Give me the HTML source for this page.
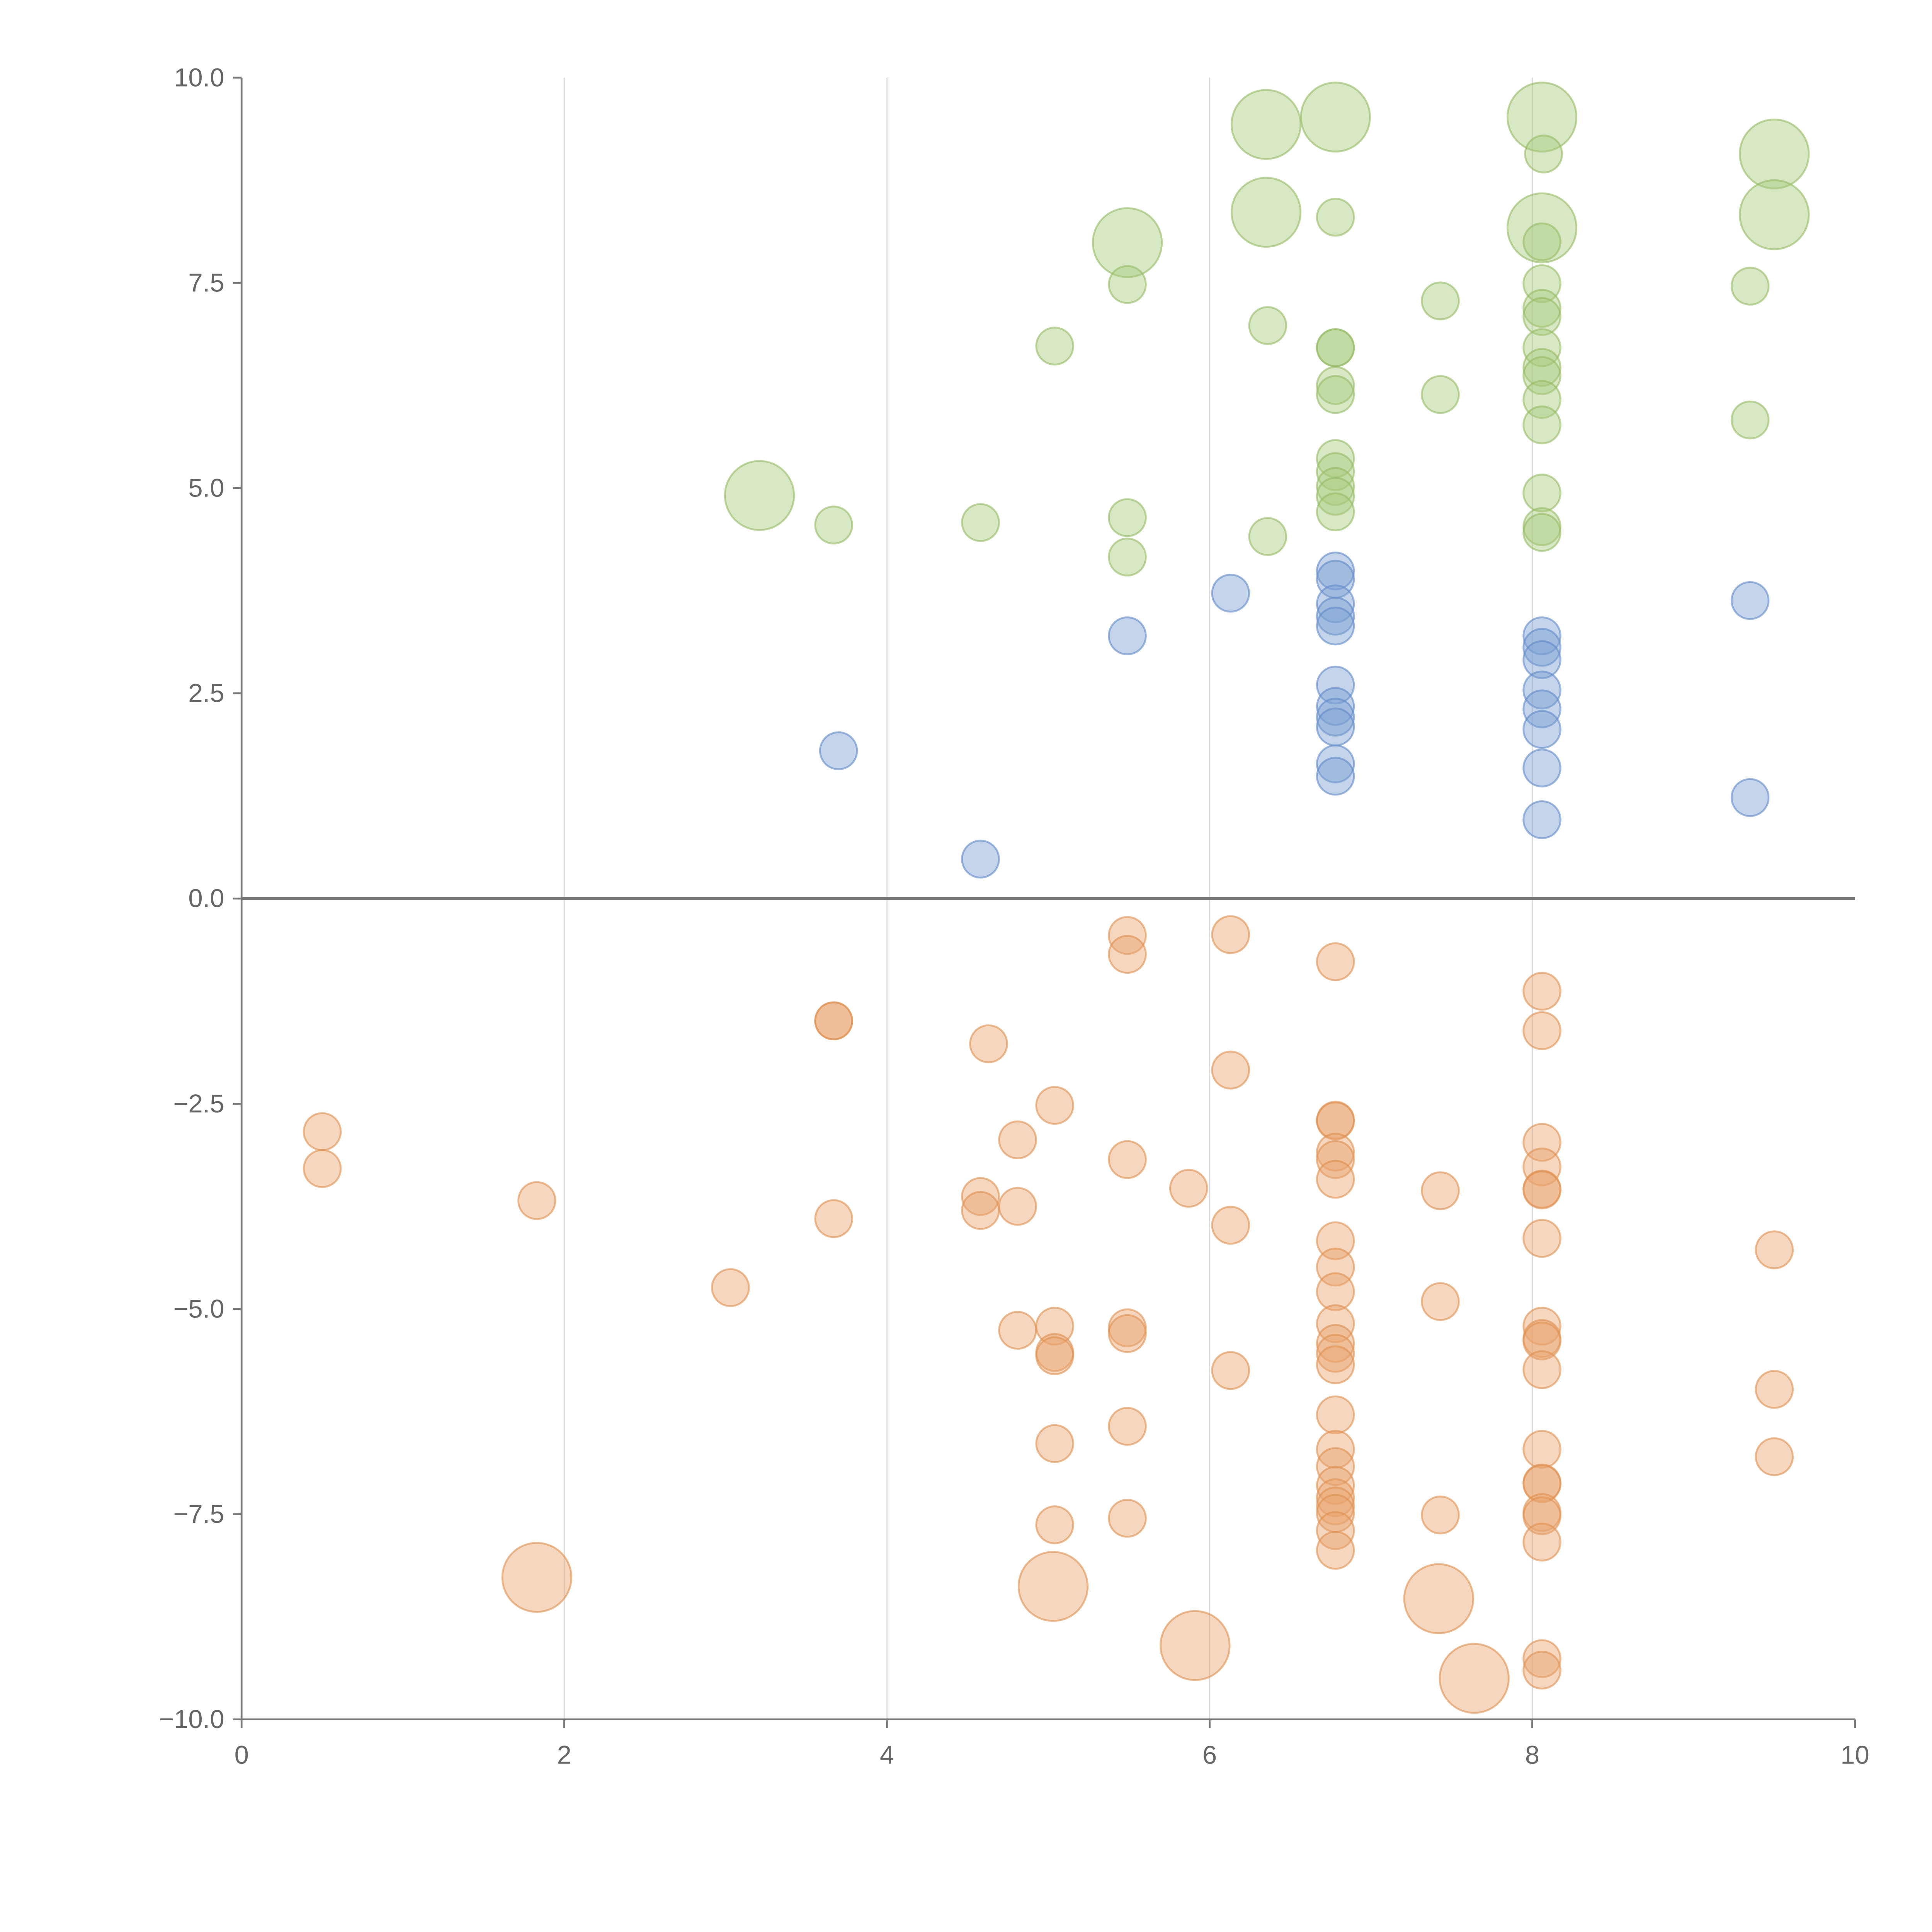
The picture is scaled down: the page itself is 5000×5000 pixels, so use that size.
<!DOCTYPE html>
<html><head><meta charset="utf-8"><style>
html,body{margin:0;padding:0;background:#fff;}
svg{display:block;}
text{font-family:"Liberation Sans",Arial,sans-serif;fill:#666;}
</style></head>
<body>
<svg id="chart" width="5000" height="5000" viewBox="0 0 1567.5 1567.5" xmlns="http://www.w3.org/2000/svg">
<g id="grid"></g>
<g id="axes"></g>
<g id="marks"></g>
</svg>
<script>
const xTicks = [0,2,4,6,8,10];
const yTicks = [10.0,7.5,5.0,2.5,0.0,-2.5,-5.0,-7.5,-10.0];
const yTickLabels = ["10.0","7.5","5.0","2.5","0.0","\u22122.5","\u22125.0","\u22127.5","\u221210.0"];

const greenX = [6.35,6.78,8.06,9.5,6.35,8.06,9.5,5.49,3.21,8.07,6.78,8.06,8.06,5.49,7.43,9.35,6.36,8.06,8.06,6.78,6.78,5.04,8.06,8.06,8.06,6.78,6.78,7.43,8.06,9.35,8.06,6.78,6.78,6.78,6.78,6.78,8.06,8.06,8.06,3.67,4.58,5.49,5.49,6.36];
const greenY = [9.43,9.52,9.52,9.07,8.36,8.17,8.33,7.99,4.91,9.07,8.30,8.0,7.49,7.48,7.28,7.46,6.98,7.19,7.09,6.71,6.71,6.73,6.71,6.47,6.37,6.25,6.14,6.14,6.08,5.83,5.77,5.36,5.2,5.02,4.9,4.71,4.94,4.53,4.46,4.55,4.58,4.64,4.16,4.41];
const greenBig = [1,1,1,1,1,1,1,1,1];

const blueX = [3.70,4.58,5.49,6.13,6.78,6.78,6.78,6.78,6.78,6.78,6.78,6.78,6.78,6.78,6.78,8.06,8.06,8.06,8.06,8.06,8.06,8.06,8.06,9.35,9.35];
const blueY = [1.80,0.48,3.2,3.72,3.99,3.89,3.59,3.44,3.32,2.6,2.34,2.21,2.09,1.64,1.49,3.2,3.06,2.91,2.54,2.31,2.06,1.59,0.96,3.63,1.23];

const orangeX = [
 1.83,5.03,5.91,7.42,7.64,
 0.5,0.5,
 1.83,
 3.03,
 3.67,3.67,3.67,
 4.63,
 4.58,4.58,
 4.81,4.81,4.81,
 5.04,5.04,5.04,5.04,5.04,5.04,
 5.49,5.49,5.49,5.49,5.49,5.49,5.49,
 5.87,
 6.13,6.13,6.13,6.13,
 6.78,6.78,6.78,6.78,6.78,6.78,6.78,6.78,6.78,6.78,6.78,6.78,6.78,6.78,6.78,6.78,6.78,6.78,6.78,6.78,6.78,6.78,
 7.43,7.43,7.43,
 8.06,8.06,8.06,8.06,8.06,8.06,8.06,8.06,8.06,8.06,8.06,8.06,8.06,8.06,8.06,8.06,8.06,8.06,8.06,
 9.5,9.5,9.5];
const orangeY = [
 -8.27,-8.38,-9.1,-8.53,-9.5,
 -2.84,-3.29,
 -3.68,
 -4.74,
 -1.49,-1.49,-3.9,
 -1.77,
 -3.63,-3.8,
 -2.94,-3.75,-5.26,
 -2.52,-5.21,-5.53,-5.57,-6.64,-7.63,
 -0.45,-0.68,-3.18,-5.23,-5.3,-6.43,-7.55,
 -3.53,
 -0.44,-2.09,-3.98,-5.75,
 -0.77,-2.7,-2.71,-3.09,-3.18,-3.42,-4.17,-4.49,-4.79,-5.18,-5.42,-5.54,-5.68,-6.29,-6.71,-6.92,-7.15,-7.3,-7.4,-7.49,-7.7,-7.94,
 -3.56,-4.91,-7.51,
 -1.13,-1.61,-2.97,-3.27,-3.54,-3.55,-4.14,-5.21,-5.36,-5.39,-5.74,-6.71,-7.12,-7.13,-7.48,-7.52,-7.84,-9.26,-9.4,
 -4.28,-5.98,-6.8];
const orangeBig = [1,1,1,1,1];

const NS = "http://www.w3.org/2000/svg";
const X0=196, X1=1505, Y0=1395, Y1=63;
function sx(v){return X0 + v/10*(X1-X0);}
function sy(v){return Y0 - (v+10)/20*(Y0-Y1);}
function mk(tag, attrs, parent){const e=document.createElementNS(NS,tag);for(const k in attrs)e.setAttribute(k,attrs[k]);parent.appendChild(e);return e;}

const grid=document.getElementById('grid'), axes=document.getElementById('axes'), marks=document.getElementById('marks');

xTicks.forEach(t=>{
  if(t>0 && t<10){
    const l=mk('line',{x1:sx(t),x2:sx(t),y1:Y1,y2:Y0,stroke:'#ddd','stroke-width':1},grid);
    
    
  }
  const tk=mk('line',{x1:sx(t),x2:sx(t),y1:Y0,y2:Y0+7,stroke:'#777','stroke-width':1.5},axes);
  
  
  const tx=mk('text',{x:sx(t),y:Y0+36,'text-anchor':'middle','font-size':21},axes);
  tx.textContent=String(t);
  
  
});
yTicks.forEach((t,i)=>{
  const tk=mk('line',{x1:X0-7,x2:X0,y1:sy(t),y2:sy(t),stroke:'#777','stroke-width':1.5},axes);
  
  
  const tx=mk('text',{x:X0-14,y:sy(t)+7,'text-anchor':'end','font-size':21},axes);
  tx.textContent=yTickLabels[i];
  
  
});
const ya=mk('line',{x1:X0,x2:X0,y1:Y1,y2:Y0,stroke:'#777','stroke-width':1.5},axes);


const xa=mk('line',{x1:X0,x2:X1,y1:Y0,y2:Y0,stroke:'#777','stroke-width':1.5},axes);


const zl=mk('line',{x1:X0,x2:X1,y1:sy(0),y2:sy(0),stroke:'#777','stroke-width':2.5},axes);



function series(xs,ys,big,fill,stroke,name){
  xs.forEach((x,i)=>{
    const r = big[i] ? 28 : 15;
    const c=mk('circle',{cx:sx(x),cy:sy(ys[i]),r:r,fill:fill,'fill-opacity':0.45,stroke:stroke,'stroke-opacity':0.6,'stroke-width':1.5},marks);
    
    
  });
}
series(greenX,greenY,greenBig,'#a8c97c','#94bb62','point-green');
series(blueX,blueY,[],'#7b9fd3','#5f88c8','point-blue');
series(orangeX,orangeY,orangeBig,'#e8a56e','#e08f4e','point-orange');
</script>
</body></html>
